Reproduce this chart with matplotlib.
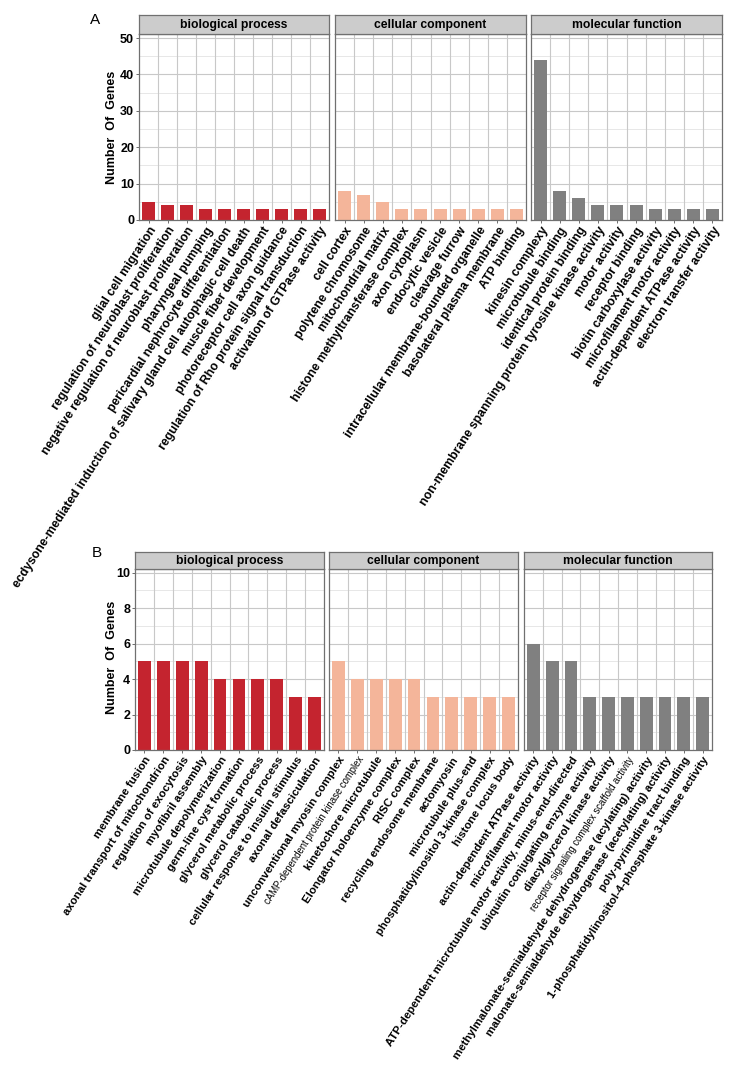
import numpy as np
import matplotlib.pyplot as plt

plt.rcParams['font.family'] = ['Liberation Sans', 'DejaVu Sans']

# ---- data, panel A ----
a_bp_terms = ["glial cell migration",
              "regulation of neuroblast proliferation",
              "negative regulation of neuroblast proliferation",
              "pharyngeal pumping",
              "pericardial nephrocyte differentiation",
              "ecdysone-mediated induction of salivary gland cell autophagic cell death",
              "muscle fiber development",
              "photoreceptor cell axon guidance",
              "regulation of Rho protein signal transduction",
              "activation of GTPase activity"]
a_bp_counts = [5, 4, 4, 3, 3, 3, 3, 3, 3, 3]

a_cc_terms = ["cell cortex", "polytene chromosome", "mitochondrial matrix",
              "histone methyltransferase complex", "axon cytoplasm",
              "endocytic vesicle", "cleavage furrow",
              "intracellular membrane-bounded organelle",
              "basolateral plasma membrane", "ATP binding"]
a_cc_counts = [8, 7, 5, 3, 3, 3, 3, 3, 3, 3]

a_mf_terms = ["kinesin complexy", "microtubule binding", "identical protein binding",
              "non-membrane spanning protein tyrosine kinase activity",
              "motor activity", "receptor binding", "biotin carboxylase activity",
              "microfilament motor activity", "actin-dependent ATPase activity",
              "electron transfer activity"]
a_mf_counts = [44, 8, 6, 4, 4, 4, 3, 3, 3, 3]

# ---- data, panel B ----
b_bp_terms = ["membrane fusion", "axonal transport of mitochondrion",
              "regulation of exocytosis", "myofibril assembly",
              "microtubule depolymerization", "germ-line cyst formation",
              "glycerol metabolic process", "glycerol catabolic process",
              "cellular response to insulin stimulus", "axonal defasciculation"]
b_bp_counts = [5, 5, 5, 5, 4, 4, 4, 4, 3, 3]

b_cc_terms = ["unconventional myosin complex", "cAMP-dependent protein kinase complex",
              "kinetochore microtubule", "Elongator holoenzyme complex",
              "RISC complex", "recycling endosome membrane", "actomyosin",
              "microtubule plus-end", "phosphatidylinositol 3-kinase complex",
              "histone locus body"]
b_cc_counts = [5, 4, 4, 4, 4, 3, 3, 3, 3, 3]

b_mf_terms = ["actin-dependent ATPase activity", "microfilament motor activity",
              "ATP-dependent microtubule motor activity, minus-end-directed",
              "ubiquitin conjugating enzyme activity",
              "diacylglycerol kinase activity",
              "receptor signaling complex scaffold activity",
              "methylmalonate-semialdehyde dehydrogenase (acylating) activity",
              "malonate-semialdehyde dehydrogenase (acetylating) activity",
              "poly-pyrimidine tract binding",
              "1-phosphatidylinositol-4-phosphate 3-kinase activity"]
b_mf_counts = [6, 5, 5, 3, 3, 3, 3, 3, 3, 3]

# these two labels are printed smaller in the original
small_terms = ["cAMP-dependent protein kinase complex",
               "receptor signaling complex scaffold activity"]

titles = ["biological process", "cellular component", "molecular function"]
colors = ["#C4242F", "#F4B59A", "#808080"]

W, H = 744, 1071
fig = plt.figure(figsize=(W / 100, H / 100), dpi=100)


def px_rect(x0, x1, y0, y1):
    # pixel box (top-left origin) -> figure fraction
    return [x0 / W, 1 - y1 / H, (x1 - x0) / W, (y1 - y0) / H]


def draw_row(xs, top, bottom, strip_top, groups, ymax, major, minor, lab_size):
    for k, ((x0, x1), (terms, counts)) in enumerate(zip(xs, groups)):
        ax = fig.add_axes(px_rect(x0, x1, top, bottom))
        pos = np.arange(1, len(terms) + 1)
        ax.set_xlim(0.5, len(terms) + 0.5)
        ax.set_ylim(0, ymax)
        for v in np.arange(minor, ymax, major):
            ax.axhline(v, color="#E3E3E3", lw=0.6, zorder=0)
        for v in np.arange(major, ymax, major):
            ax.axhline(v, color="#C8C8C8", lw=0.8, zorder=0)
        for v in pos[:-1] + 0.5:
            ax.axvline(v, color="#C8C8C8", lw=0.8, zorder=0)
        ax.bar(pos, counts, width=0.68, color=colors[k], zorder=2)
        ax.set_xticks(pos)
        ax.set_xticklabels(terms, rotation=57, ha="right", va="top",
                           rotation_mode="anchor", fontweight="bold",
                           fontsize=lab_size)
        for lab in ax.get_xticklabels():
            if lab.get_text() in small_terms:
                lab.set_fontsize(6.9)
                lab.set_fontweight("normal")
        ax.tick_params(axis="x", length=2.5, width=0.6, color="#555555", pad=1)
        ax.set_yticks(np.arange(0, ymax, major))
        if k == 0:
            ax.tick_params(axis="y", length=2.5, width=0.6, color="#555555",
                           labelsize=9, pad=1)
            for lab in ax.get_yticklabels():
                lab.set_fontweight("bold")
        else:
            ax.tick_params(axis="y", length=0, labelleft=False)
        for s in ax.spines.values():
            s.set_color("#707070")
            s.set_linewidth(0.9)
        # facet strip
        sax = fig.add_axes(px_rect(x0, x1, strip_top, top))
        sax.set_xticks([])
        sax.set_yticks([])
        sax.set_facecolor("#CCCCCC")
        for s in sax.spines.values():
            s.set_color("#707070")
            s.set_linewidth(0.9)
        sax.text(0.5, 0.45, titles[k], ha="center", va="center",
                 fontweight="bold", fontsize=8.7, transform=sax.transAxes)


draw_row([(139, 329), (335, 526), (531, 722)], 34, 220, 15,
         [(a_bp_terms, a_bp_counts), (a_cc_terms, a_cc_counts),
          (a_mf_terms, a_mf_counts)], 51.1, 10, 5, 8.8)
draw_row([(135, 324), (329, 518), (524, 712)], 569, 750, 552,
         [(b_bp_terms, b_bp_counts), (b_cc_terms, b_cc_counts),
          (b_mf_terms, b_mf_counts)], 10.2, 2, 1, 8.2)

fig.text(112 / W, 1 - 127 / H, "Number  Of  Genes", rotation=90, ha="center",
         va="center", fontweight="bold", fontsize=9)
fig.text(112 / W, 1 - 657 / H, "Number  Of  Genes", rotation=90, ha="center",
         va="center", fontweight="bold", fontsize=9)
fig.text(95 / W, 1 - 20 / H, "A", ha="center", va="center", fontsize=11)
fig.text(97 / W, 1 - 553 / H, "B", ha="center", va="center", fontsize=11)

fig.savefig("out.png", dpi=100)
